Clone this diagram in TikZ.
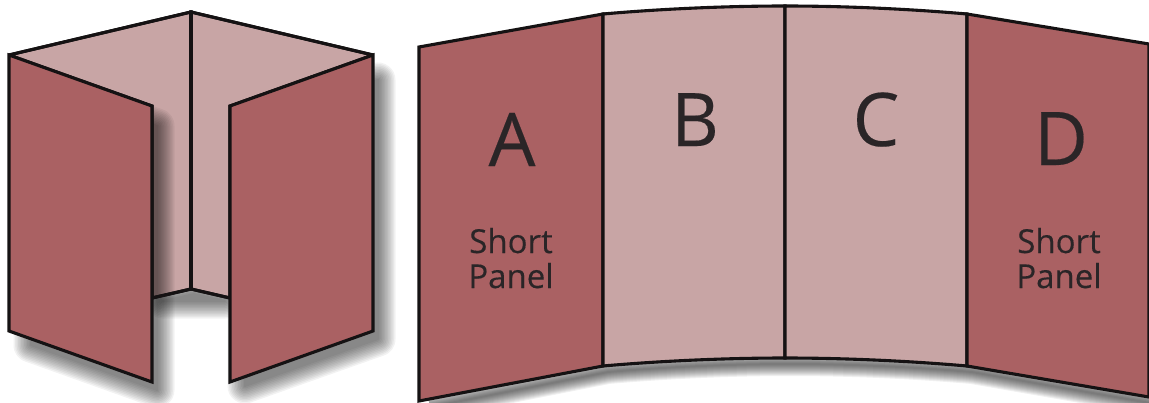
\documentclass[tikz,border=0pt]{standalone}
\usepackage{fontspec}
\setmainfont{Open Sans}
\newfontfamily\labelfont[FakeBold=0.25]{Open Sans}
\definecolor{darkpanel}{HTML}{AA6163}
\definecolor{lightpanel}{HTML}{C8A5A5}
\definecolor{inktext}{HTML}{2A2527}
\definecolor{edge}{HTML}{151213}
\tikzset{
  panel/.style={draw=edge,line width=3.1pt,line join=miter,miter limit=3},
  darkp/.style={panel,fill=darkpanel},
  lightp/.style={panel,fill=lightpanel},
  bigletter/.style={text=inktext,anchor=base,inner sep=0pt,font=\labelfont\fontsize{74}{74}\selectfont},
  smalllabel/.style={text=inktext,anchor=base,inner sep=0pt,font=\labelfont\fontsize{33}{33}\selectfont},
}
% soft shadow: #1 = offset, #2 = path; each layer is one flat group, grown outward
\newcommand{\softshadow}[2]{%
  \begin{scope}[shift={#1}]
    \foreach \w in {2,5,...,35}{
      \begin{scope}[transparency group,opacity=0.05]
        \path[draw=black,fill=black,line width=\w pt,line join=round] #2;
      \end{scope}
    }
  \end{scope}}
% soft shadow of an open edge: strokes only
\newcommand{\softedge}[2]{%
  \begin{scope}[shift={#1}]
    \foreach \w in {2,4,...,24}{
      \path[draw=black,line width=\w pt,line join=round,opacity=0.06] #2;
    }
  \end{scope}}
\begin{document}
\begin{tikzpicture}[x=1pt,y=-1pt]
\useasboundingbox (0,0) rectangle (1149,402);
% ---- folded piece
\softshadow{(3,5)}{(191,289) -- (160,296) -- (222,296) -- cycle}
\softshadow{(5,8)}{(373,72) -- (240,110) -- (240,378) -- (373,331) -- cycle}
\softshadow{(5,8)}{(26,70) -- (152,115) -- (152,382) -- (26,337) -- cycle}
\draw[lightp] (9,55) -- (191,12) -- (191,289) -- (152,298) -- (152,106) -- cycle;
\draw[lightp] (373,55) -- (191,12) -- (191,289) -- (230,298) -- (230,106) -- cycle;
\begin{scope}
  \clip (152,106) -- (152,298) -- (191,289) -- (191,106) -- cycle;
  \softshadow{(5,20)}{(9,55) -- (152,106) -- (152,382) -- (9,331) -- cycle}
\end{scope}
\draw[panel] (191,12) -- (191,289);
\draw[panel] (9,55) -- (191,12) -- (373,55);
\draw[panel] (152,298) -- (191,289) -- (230,298);
\draw[darkp] (9,55) -- (152,106) -- (152,382) -- (9,331) -- cycle;
\draw[darkp] (373,55) -- (230,106) -- (230,382) -- (373,331) -- cycle;
% ---- flat piece
\softedge{(5,6)}{(425,401) -- (603,366) .. controls (660,361) and (725,358) .. (785,358) .. controls (845,358) and (910,361) .. (967,366) -- (1145,397)}
\draw[darkp] (419,47) -- (603,14) -- (603,366) -- (419,401) -- cycle;
\draw[lightp] (603,14) .. controls (660,9) and (725,6) .. (785,6) -- (785,358) .. controls (725,358) and (660,361) .. (603,366) -- cycle;
\draw[lightp] (967,14) .. controls (910,9) and (845,6) .. (785,6) -- (785,358) .. controls (845,358) and (910,361) .. (967,366) -- cycle;
\draw[darkp] (1149,44) -- (967,14) -- (967,366) -- (1149,397) -- cycle;
% ---- labels
\node[bigletter] (la) at (512,166) {A};
\node[bigletter] (lb) at (695,146) {B};
\node[bigletter] (lc) at (876,146) {C};
\node[bigletter] (ld) at (1061,165) {D};
\node[smalllabel] (sa) at (511,253) {Short};
\node[smalllabel] (pa) at (511,288) {Panel};
\node[smalllabel] (sd) at (1059,253) {Short};
\node[smalllabel] (pd) at (1059,288) {Panel};
\end{tikzpicture}
\end{document}
